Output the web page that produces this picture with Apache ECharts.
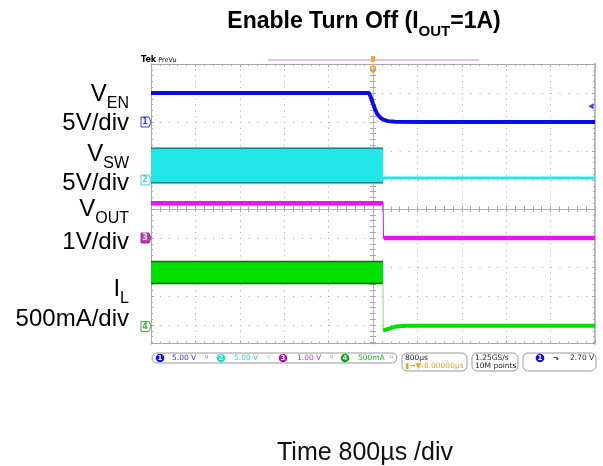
<!DOCTYPE html>
<html><head><meta charset="utf-8">
<script src="https://cdn.jsdelivr.net/npm/echarts@6/dist/echarts.min.js"></script>
<style>html,body{margin:0;padding:0;background:#fff}#c{width:603px;height:466px}</style>
</head><body><div id="c"></div>
<script>
// ---- data (time in µs, values in V or A) ----
const timeDivUs = 800;                 // 800 µs / div
const xTicks = [-4000, 4000];          // 10 divisions
// channel scales (per div) and ground-marker positions (div from centre)
const chScale  = [5, 5, 1, 0.5];
const chGround = [3.0, 1.0, -1.0, -4.05];
// CH1 V_EN
const venTime = [-4000, -70, -25, 5, 35, 75, 125, 185, 270, 400, 850, 4000];
const venVolt = [5, 5, 3.9, 3.05, 2.25, 1.4, 0.8, 0.4, 0.15, 0.05, 0, 0];
// CH2 V_SW : switching band before turn-off, then flat
const vswBandTime = [-4000, 180];
const vswBandVolt = [-0.5, 5.5];
const vswOffTime = [180, 4000];
const vswOffVolt = [0.35, 0.35];
// CH3 V_OUT
const voutOnTime = [-4000, 182];
const voutOnVolt = [1.2, 1.2];
const voutOffTime = [190, 4000];
const voutOffVolt = [0, 0];
// CH4 I_L
const ilBandTime = [-4000, 180];
const ilBandAmp = [0.74, 1.12];
const ilOffTime = [184, 190, 230, 280, 340, 420, 600, 4000];
const ilOffAmp = [-0.06, -0.07, -0.06, -0.04, -0.02, 0.0, 0.01, 0.01];
const trigLevel = 2.70;

// ---- helpers ----
const toDiv = (ch, v) => chGround[ch] + v / chScale[ch];
const pts = (ch, ts, vs) => ts.map((t, i) => [t, toDiv(ch, vs[i])]);

const C = {
  blue: '#0b0be6', cyan: '#22e6e6', cyanEdge: '#0c6d6a',
  mag: '#ee12ee', green: '#00e000', greenEdge: '#0b6e0b',
  grid: '#a8a8a8'
};

// full 10-division graticule (lower part is hidden behind the status area)
const GRID = {left: 151, top: 64, width: 444, height: 290};
const BOTTOM = 343.5;

function bandSeries(ch, ts, vs, fill, edge) {
  return {
    type: 'custom', xAxisIndex: 0, yAxisIndex: 0, z: 3, silent: true,
    data: [[ts[0], ts[1], toDiv(ch, vs[0]), toDiv(ch, vs[1])]],
    encode: {x: [0, 1], y: [2, 3]},
    renderItem: (params, api) => {
      const a = api.coord([api.value(0), api.value(3)]);
      const b = api.coord([api.value(1), api.value(2)]);
      return {type: 'group', children: [
        {type: 'rect', shape: {x: a[0], y: a[1], width: b[0] - a[0], height: b[1] - a[1]}, style: {fill: fill}},
        {type: 'line', shape: {x1: a[0], y1: a[1], x2: b[0], y2: a[1]}, style: {stroke: edge, lineWidth: 1.4}},
        {type: 'line', shape: {x1: a[0], y1: b[1], x2: b[0], y2: b[1]}, style: {stroke: edge, lineWidth: 1.4}}
      ]};
    }
  };
}
function lineSeries(data, color, width, z) {
  return {type: 'line', xAxisIndex: 0, yAxisIndex: 0, data: data, showSymbol: false, symbol: 'none',
    lineStyle: {color: color, width: width}, z: z || 4, silent: true, animation: false};
}
function chMarker(ch, label, color, filled) {
  return {type: 'scatter', xAxisIndex: 0, yAxisIndex: 0, data: [[-4000, chGround[ch]]], z: 6, silent: true,
    symbol: 'path://M0,0 L8,0 L10,5 L8,10 L0,10 Z', symbolSize: [10, 10], symbolOffset: [-5, 0],
    itemStyle: {color: filled ? color : '#fff', borderColor: color, borderWidth: 1},
    label: {show: true, position: 'inside', offset: [-1, 0], formatter: label, fontSize: 8, fontWeight: 'bold',
      fontFamily: 'DejaVu Sans', color: filled ? '#fff' : color}};
}

const axisBase = (type) => ({type: 'value', min: type === 'x' ? xTicks[0] : -5, max: type === 'x' ? xTicks[1] : 5,
  interval: type === 'x' ? timeDivUs : 1, axisLabel: {show: false}, splitLine: {show: false}});

const tickStyle = {color: C.grid, width: 1};
const xAxes = [
  Object.assign(axisBase('x'), {gridIndex: 0, axisLine: {onZero: true, lineStyle: {color: '#b4b4b4', width: 1}},
    axisTick: {show: true, inside: true, length: 3, lineStyle: tickStyle},
    minorTick: {show: true, splitNumber: 5, length: 3, lineStyle: tickStyle},
    splitLine: {show: true, lineStyle: {color: C.grid, width: 1, type: [1, 4.8]}}}),
  Object.assign(axisBase('x'), {gridIndex: 1, axisLine: {onZero: true, lineStyle: {color: '#b4b4b4'}},
    axisTick: {show: true, inside: false, length: 3, lineStyle: tickStyle},
    minorTick: {show: true, splitNumber: 5, length: 3, lineStyle: tickStyle}}),
  Object.assign(axisBase('x'), {gridIndex: 2, position: 'top', axisLine: {onZero: false, lineStyle: {color: C.grid}},
    axisTick: {show: true, inside: true, length: 3, lineStyle: tickStyle},
    minorTick: {show: true, splitNumber: 5, length: 2, lineStyle: tickStyle}}),
  Object.assign(axisBase('x'), {gridIndex: 3, position: 'bottom', axisLine: {onZero: false, lineStyle: {color: C.grid}},
    axisTick: {show: true, inside: true, length: 3, lineStyle: tickStyle},
    minorTick: {show: true, splitNumber: 5, length: 2, lineStyle: tickStyle}})
];
const yAxes = [
  Object.assign(axisBase('y'), {gridIndex: 0, axisLine: {onZero: true, lineStyle: {color: '#b4b4b4', width: 1}},
    axisTick: {show: true, inside: true, length: 3, lineStyle: tickStyle},
    minorTick: {show: true, splitNumber: 5, length: 3, lineStyle: tickStyle},
    splitLine: {show: true, lineStyle: {color: C.grid, width: 1, type: [1, 7.88]}}}),
  Object.assign(axisBase('y'), {gridIndex: 1, axisLine: {onZero: true, lineStyle: {color: '#b4b4b4'}},
    axisTick: {show: true, inside: false, length: 3, lineStyle: tickStyle},
    minorTick: {show: true, splitNumber: 5, length: 3, lineStyle: tickStyle}}),
  Object.assign(axisBase('y'), {gridIndex: 2, position: 'left', axisLine: {onZero: false, lineStyle: {color: C.grid}},
    axisTick: {show: true, inside: true, length: 3, lineStyle: tickStyle},
    minorTick: {show: true, splitNumber: 5, length: 2, lineStyle: tickStyle}}),
  Object.assign(axisBase('y'), {gridIndex: 2, position: 'right', axisLine: {onZero: false, lineStyle: {color: '#bdbdbd', width: 2}},
    axisTick: {show: true, inside: true, length: 3, lineStyle: tickStyle},
    minorTick: {show: true, splitNumber: 5, length: 2, lineStyle: tickStyle}}),
  Object.assign(axisBase('y'), {gridIndex: 3, show: false})
];

const series = [
  bandSeries(1, vswBandTime, vswBandVolt, C.cyan, C.cyanEdge),
  lineSeries(pts(1, vswOffTime, vswOffVolt), C.cyan, 3),
  lineSeries(pts(2, voutOnTime, voutOnVolt), C.mag, 4.5),
  lineSeries([[voutOnTime[1], toDiv(2, voutOnVolt[1])], [voutOffTime[0], toDiv(2, voutOffVolt[0])]], C.mag, 1),
  lineSeries(pts(2, voutOffTime, voutOffVolt), C.mag, 4.5),
  bandSeries(3, ilBandTime, ilBandAmp, C.green, C.greenEdge),
  lineSeries([[ilBandTime[1], toDiv(3, ilBandAmp[0])], [ilOffTime[0], toDiv(3, ilOffAmp[0])]], '#7fe07f', 1),
  lineSeries(pts(3, ilOffTime, ilOffAmp), C.green, 4),
  lineSeries(pts(0, venTime, venVolt), C.blue, 4),
  chMarker(0, '1', C.blue, false),
  chMarker(1, '2', '#18c8c8', false),
  chMarker(2, '3', '#a010a0', true),
  chMarker(3, '4', '#10a010', false),
  {type: 'scatter', xAxisIndex: 0, yAxisIndex: 0, data: [[4000, toDiv(0, trigLevel)]], z: 6, silent: true,
    symbol: 'triangle', symbolRotate: 90, symbolSize: [6, 5], symbolOffset: [-4, 0], itemStyle: {color: C.blue}}
];

// ---- text / chrome ----
const labelFont = 'Liberation Sans, Arial, sans-serif';
function sideLabel(main, sub, y) {
  return {type: 'text', right: 603 - 129, top: y, style: {
    text: sub ? '{m|' + main + '}{s|' + sub + '}' : '{m|' + main + '}',
    rich: {m: {fontSize: 24, fontFamily: labelFont, color: '#111', lineHeight: 26},
           s: {fontSize: 16, fontFamily: labelFont, color: '#111', lineHeight: 16, verticalAlign: 'bottom', padding: [0, 0, -5, 0]}}}};
}
const statusFont = 'DejaVu Sans, sans-serif';
function pill(x, y, w, h) {
  return {type: 'rect', z: 101, shape: {x: x, y: y, width: w, height: h, r: 5}, style: {fill: '#fff', stroke: '#9a9a9a', lineWidth: 1}};
}
function chDot(cx, cy, color, n) {
  return [{type: 'circle', z: 102, shape: {cx: cx, cy: cy, r: 4.3}, style: {fill: color}},
          {type: 'text', z: 103, x: cx, y: cy, style: {text: n, fill: '#fff', font: 'bold 7px ' + statusFont, align: 'center', verticalAlign: 'middle'}}];
}
function sText(x, y, t, color, size) {
  return {type: 'text', z: 103, x: x, y: y, style: {text: t, fill: color, font: (size || 7.5) + 'px ' + statusFont, verticalAlign: 'middle'}};
}
const sy = 358;
const graphics = [
  // cover the part of the graticule below the bottom border
  {type: 'rect', z: 100, shape: {x: 140, y: BOTTOM + 1, width: 463, height: 12}, style: {fill: '#fff'}},
  {type: 'text', x: 364, y: 22, style: {text: '{b|Enable Turn Off (I}{s|OUT}{b|=1A)}', align: 'center', verticalAlign: 'middle',
    rich: {b: {fontSize: 23, fontWeight: 'bold', fontFamily: labelFont, color: '#000', lineHeight: 25},
           s: {fontSize: 15, fontWeight: 'bold', fontFamily: labelFont, color: '#000', lineHeight: 15, verticalAlign: 'bottom', padding: [0, 0, -5, 0]}}}},
  sideLabel('V', 'EN', 82), sideLabel('5V/div', null, 111),
  sideLabel('V', 'SW', 142), sideLabel('5V/div', null, 171),
  sideLabel('V', 'OUT', 197), sideLabel('1V/div', null, 230),
  sideLabel('I', 'L', 277), sideLabel('500mA/div', null, 307),
  {type: 'text', x: 365, y: 453, style: {text: 'Time 800µs /div', font: '25px ' + labelFont, fill: '#111', align: 'center', verticalAlign: 'middle'}},
  {type: 'text', x: 141, y: 60, style: {text: '{a|Tek}{b| PreVu}', verticalAlign: 'middle',
    rich: {a: {fontSize: 8, fontWeight: 'bold', fontFamily: statusFont, color: '#000'}, b: {fontSize: 6.5, fontFamily: statusFont, color: '#000'}}}},
  {type: 'line', shape: {x1: 268, y1: 60, x2: 479, y2: 60}, style: {stroke: '#e07be0', lineWidth: 1.2}},
  {type: 'rect', shape: {x: 371, y: 56, width: 4, height: 6, r: 1}, style: {fill: '#f5a623'}},
  {type: 'polygon', shape: {points: [[370, 66], [376, 66], [376, 71], [373, 74], [370, 71]]}, style: {fill: '#f5a623'}},
  {type: 'text', x: 373, y: 70, style: {text: 'T', fill: '#fff', font: 'bold 5px ' + statusFont, align: 'center', verticalAlign: 'middle'}},
  pill(152, 353, 245, 10), pill(402, 353, 65, 18), pill(472, 353, 46, 18), pill(523, 353, 73, 18),
  ...chDot(160, sy, '#1212e0', '1'), sText(172, sy, '5.00 V', '#3434e8'), sText(205, sy, 'ᶣ', '#3434e8', 7),
  ...chDot(221, sy, '#22d8d8', '2'), sText(234, sy, '5.00 V', '#30d8d8'), sText(267, sy, 'ᶣ', '#30d8d8', 7),
  ...chDot(283, sy, '#a014a0', '3'), sText(297, sy, '1.00 V', '#b040c0'), sText(330, sy, 'ᶣ', '#b040c0', 7),
  ...chDot(345, sy, '#10a010', '4'), sText(358, sy, '500mA', '#20b020'), sText(390, sy, 'ᶣ', '#20b020', 7),
  sText(405, 358, '800µs', '#222'), sText(405, 366, '▮→▼-8.00000µs', '#f0a020'),
  sText(475, 358, '1.25GS/s', '#222'), sText(475, 366, '10M points', '#222'),
  ...chDot(540, sy, '#1212e0', '1'), sText(553, sy, '⬎', '#222'), sText(570, sy, '2.70 V', '#222')
];

const chart = echarts.init(document.getElementById('c'), null, {renderer: 'canvas'});
chart.setOption({
  animation: false,
  grid: [Object.assign({}, GRID), Object.assign({}, GRID), Object.assign({}, GRID),
         {left: GRID.left, top: GRID.top, width: GRID.width, height: BOTTOM - GRID.top}],
  xAxis: xAxes, yAxis: yAxes, series: series, graphic: graphics
});
</script></body></html>
